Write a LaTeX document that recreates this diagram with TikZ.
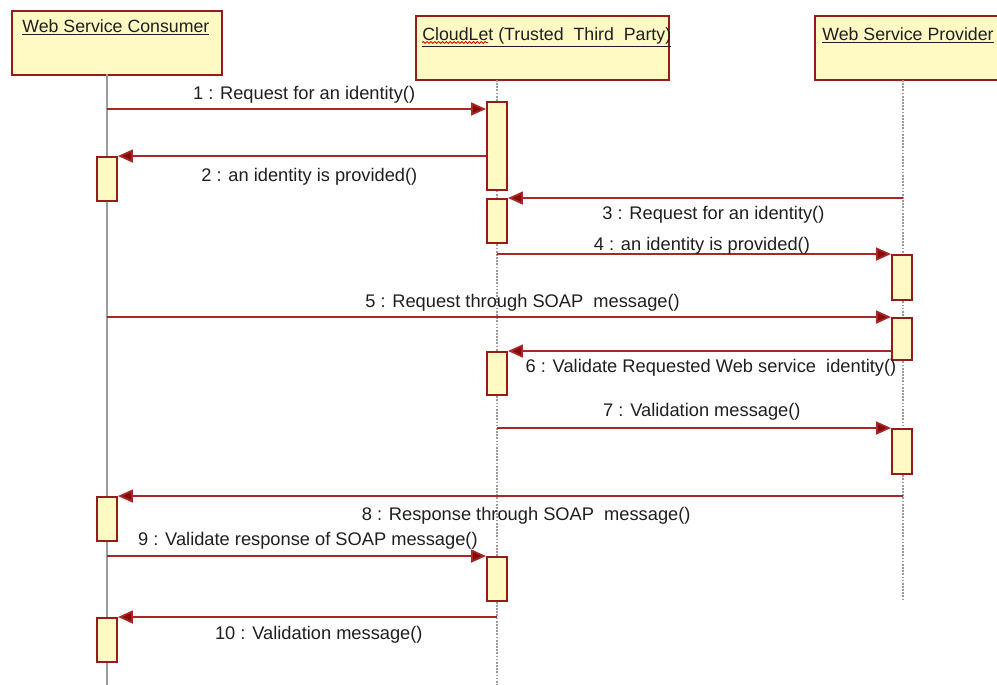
\documentclass[tikz,border=0pt]{standalone}
\usepackage{fontspec}
\setsansfont{Liberation Sans}
\usetikzlibrary{positioning,arrows.meta,decorations.pathmorphing}

\definecolor{umlfill}{RGB}{255,250,196}
\definecolor{umlline}{RGB}{150,28,28}
\definecolor{msgline}{RGB}{168,40,40}
\definecolor{tipred}{RGB}{135,10,10}
\definecolor{lifegray}{RGB}{155,155,155}

\begin{document}
\begin{tikzpicture}[
  x=0.02cm, y=-0.02cm,
  font=\sffamily\fontsize{10.4}{12}\selectfont,
  head/.style={draw=umlline, fill=umlfill, line width=1.1pt, anchor=north west,
               inner sep=0pt, minimum height=1.29cm},
  htitle/.style={anchor=north west, inner sep=0pt, text=black!88,
                 font=\sffamily\fontsize{10.1}{12}\selectfont},
  act/.style={draw=umlline, fill=umlfill, line width=1.1pt, minimum width=4mm,
              inner sep=0pt},
  life/.style={lifegray, line width=0.9pt},
  msg/.style={-{Triangle[length=3mm,width=2.6mm,fill=tipred]}, msgline, line width=1pt},
  lbl/.style={text=black!88, inner sep=1pt},
]
  \useasboundingbox (0,0) rectangle (997,685);
  \clip (0,0) rectangle (997,685);

  % Participants
  \node[head, minimum width=4.2cm] (wsc) at (11,10) {};
  \node[head, minimum width=5.06cm] (cl) at (415,15) {};
  \node[head, minimum width=4.0cm] (wsp) at (814,15) {};
  \node[htitle] (wsct) at ([shift={(11,9)}]wsc.north west) {\underline{Web Service Consumer}};
  \node[htitle] (clt) at ([shift={(7,12)}]cl.north west) {\underline{CloudLet (Trusted\ \ Third\ \ Party)}};
  \node[htitle] (wspt) at ([shift={(8,12)}]wsp.north west) {\underline{Web Service Provider}};
  \draw[red!85!black, line width=0.5pt, decorate,
        decoration={snake, amplitude=0.5pt, segment length=2.2pt}]
    ([yshift=3pt]clt.south west) -- ++(66,0);

  % Lifelines
  \coordinate (lc) at (107,74);
  \coordinate (lcl) at (497,80);
  \coordinate (lp) at (903,80);
  \draw[life] (lc) -- ++(0,611);
  \draw[life, dash pattern=on 1pt off 0.8pt] (lcl) -- ++(0,605);
  \draw[life, dash pattern=on 1pt off 0.8pt] (lp) -- ++(0,520);

  % Activations
  \node[act, minimum height=1.76cm] (ca1) at (497,146) {};
  \node[act, minimum height=0.88cm] (ca2) at (497,221) {};
  \node[act, minimum height=0.86cm] (ca3) at (497,373.5) {};
  \node[act, minimum height=0.88cm] (ca4) at (497,579) {};
  \node[act, minimum height=0.88cm] (wa1) at (107,179) {};
  \node[act, minimum height=0.88cm] (wa2) at (107,519) {};
  \node[act, minimum height=0.88cm] (wa3) at (107,640) {};
  \node[act, minimum height=0.9cm] (pa1) at (902,277.5) {};
  \node[act, minimum height=0.84cm] (pa2) at (902,339) {};
  \node[act, minimum height=0.9cm] (pa3) at (902,451.5) {};

  % Messages
  \coordinate (m1) at (107,109);
  \draw[msg] (m1) -- (m1 -| ca1.west)
    node[lbl, pos=.52, yshift=.28cm] (l1) {1 : Request for an identity()};
  \draw[msg] (ca1.west |- wa1.north) -- (wa1.north east)
    node[lbl, pos=.48, yshift=-.42cm] (l2) {2 : an identity is provided()};
  \draw[msg] (lp |- ca2.north) -- (ca2.north east)
    node[lbl, pos=.48, yshift=-.34cm] (l3) {3 : Request for an identity()};
  \draw[msg] (lcl |- pa1.north) -- (pa1.north west)
    node[lbl, pos=.52, yshift=.16cm] (l4) {4 : an identity is provided()};
  \draw[msg] (lc |- pa2.north) -- (pa2.north west)
    node[lbl, pos=.53, yshift=.28cm] (l5) {5 : Request through SOAP\ \ message()};
  \draw[msg] (pa2.west |- ca3.north) -- (ca3.north east)
    node[lbl, pos=.47, yshift=-.34cm] (l6) {6 : Validate Requested Web service\ \ identity()};
  \draw[msg] (lcl |- pa3.north) -- (pa3.north west)
    node[lbl, pos=.52, yshift=.32cm] (l7) {7 : Validation message()};
  \draw[msg] (lp |- wa2.north) -- (wa2.north east)
    node[lbl, pos=.48, yshift=-.4cm] (l8) {8 : Response through SOAP\ \ message()};
  \draw[msg] (lc |- ca4.north) -- (ca4.north west)
    node[lbl, pos=.53, yshift=.3cm] (l9) {9 : Validate response of SOAP message()};
  \draw[msg] (lcl |- wa3.north) -- (wa3.north east)
    node[lbl, pos=.47, yshift=-.36cm] (l10) {10 : Validation message()};
\end{tikzpicture}
\end{document}
